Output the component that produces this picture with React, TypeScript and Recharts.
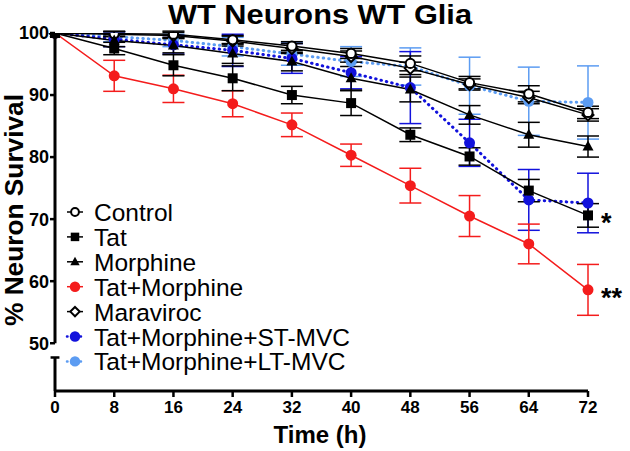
import React from "react";
import {
  LineChart,
  Line,
  XAxis,
  YAxis,
  ErrorBar,
  ReferenceLine,
  Legend,
  LabelList,
} from "recharts";

const times = [0, 8, 16, 24, 32, 40, 48, 56, 64, 72];
const xTicks = [0, 8, 16, 24, 32, 40, 48, 56, 64, 72];
const yTicks = [50, 60, 70, 80, 90, 100];

const control = [100, 99.9, 99.8, 98.9, 97.9, 96.7, 95.1, 92.0, 90.2, 87.2];
const controlErr = [0, 0.4, 0.5, 0.7, 0.7, 0.8, 1.2, 1.0, 1.3, 1.0];
const tat = [100, 97.5, 94.8, 92.7, 90.0, 88.7, 83.6, 80.1, 74.6, 70.6];
const tatErr = [0, 1.0, 1.7, 2.0, 1.4, 2.0, 1.1, 1.4, 1.8, 1.9];
const morphine = [100, 98.8, 98.0, 96.7, 95.4, 92.7, 90.9, 86.8, 83.6, 81.7];
const morphineErr = [0, 1.0, 1.2, 1.6, 1.5, 1.9, 2.0, 1.5, 2.0, 1.7];
const tatMorphine = [100, 93.1, 91.0, 88.6, 85.2, 80.3, 75.4, 70.5, 66.0, 58.6];
const tatMorphineErr = [0, 2.5, 2.2, 2.1, 1.9, 1.8, 2.8, 3.3, 3.2, 4.1];
const maraviroc = [100, 99.8, 99.6, 98.7, 97.5, 96.2, 94.3, 91.7, 89.6, 86.8];
const maravirocErr = [0, 0.4, 0.5, 0.8, 0.8, 0.9, 1.0, 0.9, 1.0, 1.0];
const stMvc = [100, 99.0, 98.1, 97.2, 95.9, 93.6, 91.2, 82.3, 73.1, 72.6];
const stMvcErr = [0, 1.2, 1.5, 2.6, 2.4, 2.6, 5.8, 3.8, 4.9, 4.8];
const ltMvc = [100, 99.4, 98.8, 97.8, 96.6, 95.4, 94.6, 91.5, 89.0, 88.8];
const ltMvcErr = [0, 0.8, 1.0, 1.5, 1.8, 2.4, 3.0, 4.6, 5.5, 5.9];

const sigLabels: Record<string, string> = { tat: "*", tatMorphine: "**" };

const RED = "#f41c1c";
const BLUE = "#1212dc";
const LIGHT = "#5c9cf2";

type Series = {
  key: string;
  name: string;
  values: number[];
  errs: number[];
  color: string;
  marker: "openCircle" | "square" | "triangle" | "dot" | "diamond";
  dotted?: boolean;
};

const series: Series[] = [
  { key: "control", name: "Control", values: control, errs: controlErr, color: "#000", marker: "openCircle" },
  { key: "tat", name: "Tat", values: tat, errs: tatErr, color: "#000", marker: "square" },
  { key: "morphine", name: "Morphine", values: morphine, errs: morphineErr, color: "#000", marker: "triangle" },
  { key: "tatMorphine", name: "Tat+Morphine", values: tatMorphine, errs: tatMorphineErr, color: RED, marker: "dot" },
  { key: "maraviroc", name: "Maraviroc", values: maraviroc, errs: maravirocErr, color: "#000", marker: "diamond" },
  { key: "stMvc", name: "Tat+Morphine+ST-MVC", values: stMvc, errs: stMvcErr, color: BLUE, marker: "dot", dotted: true },
  { key: "ltMvc", name: "Tat+Morphine+LT-MVC", values: ltMvc, errs: ltMvcErr, color: LIGHT, marker: "dot", dotted: true },
];

const drawOrder = ["ltMvc", "stMvc", "tatMorphine", "maraviroc", "control", "morphine", "tat"];

const data = times.map((t, i) => {
  const row: any = { t };
  series.forEach((s) => {
    row[s.key] = s.values[i];
    row[s.key + "Err"] = s.errs[i];
  });
  return row;
});

const FONT = "'Liberation Sans', Arial, Helvetica, sans-serif";

function Marker({ cx, cy, s, scale = 1 }: { cx: number; cy: number; s: Series; scale?: number }) {
  const k = scale;
  switch (s.marker) {
    case "openCircle":
      return <circle cx={cx} cy={cy} r={4.6 * k} fill="#fff" stroke="#000" strokeWidth={2} />;
    case "square":
      return <rect x={cx - 5 * k} y={cy - 5 * k} width={10 * k} height={10 * k} fill="#000" />;
    case "triangle":
      return (
        <polygon
          points={`${cx},${cy - 6 * k} ${cx - 5.5 * k},${cy + 4 * k} ${cx + 5.5 * k},${cy + 4 * k}`}
          fill="#000"
        />
      );
    case "diamond":
      return (
        <polygon
          points={`${cx},${cy - 5.5 * k} ${cx + 5.5 * k},${cy} ${cx},${cy + 5.5 * k} ${cx - 5.5 * k},${cy}`}
          fill="#fff"
          stroke="#000"
          strokeWidth={2}
        />
      );
    default:
      return <circle cx={cx} cy={cy} r={5.5 * k} fill={s.color} />;
  }
}

function LegendContent() {
  const rowH = 24.9;
  return (
    <svg width={330} height={rowH * series.length + 10} style={{ display: "block", overflow: "visible" }}>
      {series.map((s, i) => {
        const cy = 14 + i * rowH;
        return (
          <g key={s.key}>
            <line
              x1={2}
              x2={18}
              y1={cy}
              y2={cy}
              stroke={s.color}
              strokeWidth={s.dotted ? 2.5 : 1.5}
              strokeDasharray={s.dotted ? "0.5 4" : undefined}
              strokeLinecap={s.dotted ? "round" : "butt"}
            />
            <Marker cx={10} cy={cy} s={s} scale={s.marker === "dot" ? 0.95 : 0.85} />
            <text x={29} y={cy + 9} fontSize={24.5} fontFamily={FONT} fill="#000">
              {s.name}
            </text>
          </g>
        );
      })}
    </svg>
  );
}

export default function App() {
  const ordered = drawOrder.map((k) => series.find((s) => s.key === k)!);
  const yBottom = 42.3;
  const brkTop = 47.7;
  return (
    <div style={{ position: "absolute", left: 0, top: 0, width: 630, height: 451, background: "#fff" }}>
      <LineChart
        width={630}
        height={451}
        data={data}
        margin={{ top: 33, right: 42, bottom: 0, left: 0 }}
      >
        <XAxis
          dataKey="t"
          type="number"
          domain={[0, 72]}
          ticks={xTicks}
          height={60}
          axisLine={{ stroke: "#000", strokeWidth: 3 }}
          tickLine={{ stroke: "#000", strokeWidth: 2.5 }}
          tickSize={6}
          tickMargin={4}
          tick={{ fill: "#000", fontSize: 17, fontWeight: 700, fontFamily: FONT }}
          interval={0}
        />
        <YAxis
          type="number"
          domain={[yBottom, 100]}
          ticks={yTicks}
          width={55}
          axisLine={false}
          tickLine={{ stroke: "#000", strokeWidth: 2.5 }}
          tickSize={5}
          tickMargin={1}
          tick={{ fill: "#000", fontSize: 18, fontWeight: 700, fontFamily: FONT }}
          interval={0}
          allowDataOverflow
        />
        <ReferenceLine
          segment={[{ x: 0, y: 50 }, { x: 0, y: 100 }]}
          stroke="#000"
          strokeWidth={3}
          ifOverflow="visible"
        />
        <ReferenceLine
          segment={[{ x: 0, y: yBottom }, { x: 0, y: brkTop }]}
          stroke="#000"
          strokeWidth={3}
          ifOverflow="visible"
        />
        <ReferenceLine
          segment={[{ x: -0.6, y: brkTop }, { x: 0.6, y: brkTop }]}
          stroke="#000"
          strokeWidth={2.5}
          ifOverflow="visible"
        />
        {ordered.map((s) => (
          <Line
            key={s.key}
            dataKey={s.key}
            name={s.name}
            stroke={s.color}
            strokeWidth={s.dotted ? 3 : 1.5}
            strokeDasharray={s.dotted ? "0.5 5" : undefined}
            strokeLinecap={s.dotted ? "round" : "butt"}
            isAnimationActive={false}
            dot={(p: any) => (
              <Marker key={`${s.key}-${p.index}`} cx={p.cx} cy={p.cy} s={s} />
            )}
            activeDot={false}
          >
            <ErrorBar
              dataKey={s.key + "Err"}
              width={11}
              stroke={s.color}
              strokeWidth={1.5}
              direction="y"
            />
            {sigLabels[s.key] ? (
              <LabelList
                dataKey={s.key}
                content={(p: any) =>
                  p.index === times.length - 1 ? (
                    <text
                      key="sig"
                      x={p.x + 13}
                      y={p.y + 17}
                      fontSize={27}
                      fontWeight={700}
                      fontFamily={FONT}
                      fill="#000"
                    >
                      {sigLabels[s.key]}
                    </text>
                  ) : null
                }
              />
            ) : null}
          </Line>
        ))}
        <Legend
          layout="vertical"
          align="center"
          verticalAlign="middle"
          content={() => <LegendContent />}
          wrapperStyle={{ position: "absolute", left: 65, top: 198, width: 330, height: 190 }}
        />
      </LineChart>
      <svg
        width={630}
        height={451}
        style={{ position: "absolute", left: 0, top: 0, pointerEvents: "none" }}
      >
        <text
          x={320}
          y={24}
          textAnchor="middle"
          fontSize={28}
          fontWeight={700}
          fontFamily={FONT}
          fill="#000"
          textLength={304}
          lengthAdjust="spacingAndGlyphs"
        >
          WT Neurons WT Glia
        </text>
        <text x={320} y={443} textAnchor="middle" fontSize={24} fontWeight={700} fontFamily={FONT} fill="#000">
          Time (h)
        </text>
        <text
          x={23}
          y={210}
          transform="rotate(-90, 23, 210)"
          textAnchor="middle"
          fontSize={25}
          fontWeight={700}
          fontFamily={FONT}
          fill="#000"
          textLength={232}
          lengthAdjust="spacingAndGlyphs"
        >
          % Neuron Survival
        </text>
      </svg>
    </div>
  );
}
